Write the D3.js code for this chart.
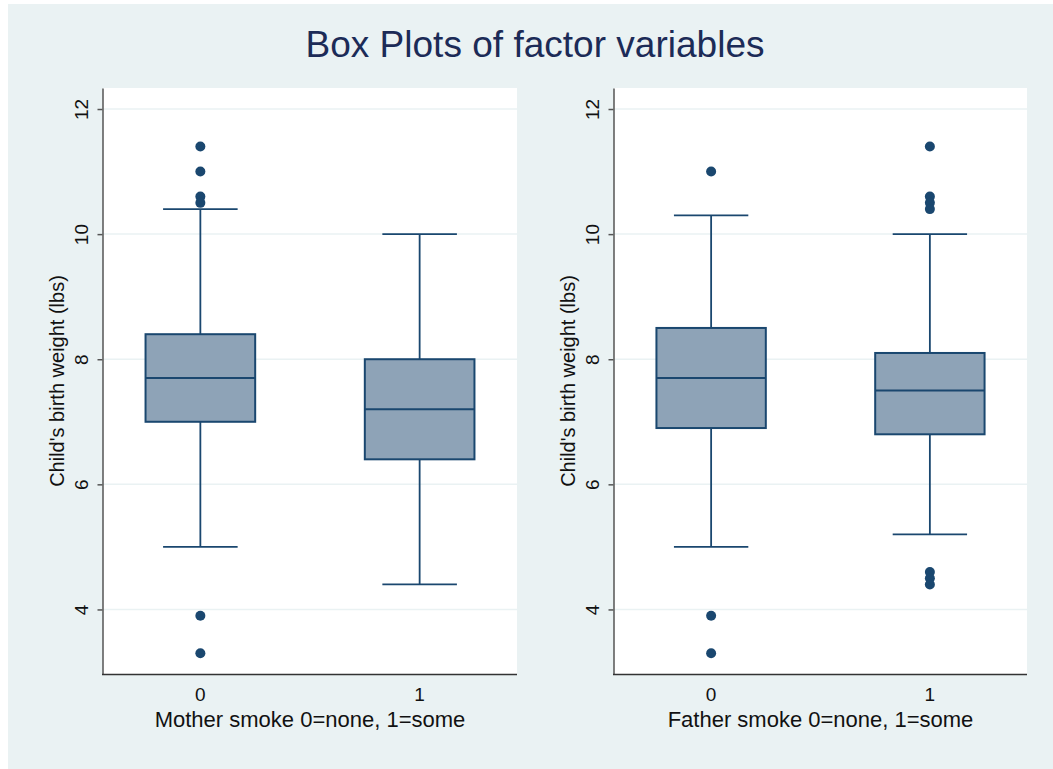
<!DOCTYPE html>
<html>
<head>
<meta charset="utf-8">
<script src="https://cdn.jsdelivr.net/npm/d3@7"></script>
<style>
	body { margin: 0; background: #fff; }
	svg text { font-family: "Liberation Sans", Arial, sans-serif; }
</style>
</head>
<body>
<svg width="1053" height="769"></svg>
<script>
// categories and tick labels
var groups = [0, 1];
var yTicks = [4, 6, 8, 10, 12];
var xTitles = ["Mother smoke 0=none, 1=some", "Father smoke 0=none, 1=some"];
var yTitle = "Child's birth weight (lbs)";

// [lower whisker, q1, median, q3, upper whisker] per group
var motherBox = [[5.0, 7.0, 7.7, 8.4, 10.4], [4.4, 6.4, 7.2, 8.0, 10.0]];
var motherOutliers = [[11.4, 11.0, 10.6, 10.5, 3.9, 3.3], []];
var fatherBox = [[5.0, 6.9, 7.7, 8.5, 10.3], [5.2, 6.8, 7.5, 8.1, 10.0]];
var fatherOutliers = [[11.0, 3.9, 3.3], [11.4, 10.6, 10.5, 10.4, 4.6, 4.5, 4.4]];

var panels = [
	{box: motherBox, out: motherOutliers, title: xTitles[0], left: 103, right: 517},
	{box: fatherBox, out: fatherOutliers, title: xTitles[1], left: 614, right: 1027}
];

var svg = d3.select("svg");
var navy = "#1a476f";

svg.append("rect").attr("x", 8).attr("y", 4).attr("width", 1045).attr("height", 765)
	.attr("fill", "#eaf2f3");

svg.append("text").attr("x", 535).attr("y", 57).attr("text-anchor", "middle")
	.attr("font-size", 36).attr("fill", "#1c2b57")
	.attr("textLength", 459).attr("lengthAdjust", "spacingAndGlyphs")
	.text("Box Plots of factor variables");

var plotTop = 88, plotBottom = 674;
var y = d3.scaleLinear().domain([2.968, 12.336]).range([plotBottom, plotTop]);

panels.forEach(function(p){
	var x = d3.scaleLinear().domain([-0.444, 1.444]).range([p.left, p.right]);
	var g = svg.append("g");
	var unit = x(1) - x(0);

	g.append("rect").attr("x", p.left).attr("y", plotTop)
		.attr("width", p.right - p.left).attr("height", plotBottom - plotTop).attr("fill", "#fff");

	// grid
	g.selectAll("line.grid").data(yTicks).enter().append("line")
		.attr("class", "grid")
		.attr("x1", p.left).attr("x2", p.right)
		.attr("y1", function(d){ return y(d); }).attr("y2", function(d){ return y(d); })
		.attr("stroke", "#eaf2f3").attr("stroke-width", 1.5);

	// y axis
	var yAxis = g.append("g").attr("transform", "translate(" + (p.left - 0.5) + ",0)")
		.call(d3.axisLeft(y).tickValues(yTicks).tickSize(5).tickSizeOuter(0).tickFormat(d3.format("d")));
	yAxis.select(".domain").attr("stroke", "#555").attr("stroke-width", 1.5);
	yAxis.selectAll(".tick line").attr("stroke", "#555").attr("stroke-width", 1.5);
	yAxis.selectAll(".tick text")
		.attr("x", 0).attr("dy", null)
		.attr("transform", "translate(-15,0) rotate(-90)")
		.attr("text-anchor", "middle")
		.attr("font-size", 19).attr("fill", "#111")
		.attr("font-family", "Liberation Sans, Arial, sans-serif");

	// x axis line
	g.append("line").attr("x1", p.left - 1).attr("x2", p.right)
		.attr("y1", plotBottom + 0.5).attr("y2", plotBottom + 0.5)
		.attr("stroke", "#333").attr("stroke-width", 1.5);

	g.selectAll("text.xtick").data(groups).enter().append("text")
		.attr("class", "xtick")
		.attr("x", function(d){ return x(d); }).attr("y", 701)
		.attr("text-anchor", "middle").attr("font-size", 19).attr("fill", "#111")
		.text(function(d){ return d; });

	g.append("text").attr("x", (p.left + p.right) / 2).attr("y", 727)
		.attr("text-anchor", "middle").attr("font-size", 22).attr("fill", "#111")
		.text(p.title);

	g.append("text")
		.attr("transform", "translate(" + (p.left - 39) + "," + ((plotTop + plotBottom) / 2) + ") rotate(-90)")
		.attr("text-anchor", "middle").attr("font-size", 20).attr("fill", "#111")
		.text(yTitle);

	// boxes
	var bw = unit * 0.5, cw = unit * 0.34;
	var bx = g.selectAll("g.box").data(p.box).enter().append("g").attr("class", "box");
	bx.append("line")
		.attr("x1", function(d, i){ return x(groups[i]); }).attr("x2", function(d, i){ return x(groups[i]); })
		.attr("y1", function(d){ return y(d[0]); }).attr("y2", function(d){ return y(d[4]); })
		.attr("stroke", navy).attr("stroke-width", 1.8);
	[0, 4].forEach(function(k){
		bx.append("line")
			.attr("x1", function(d, i){ return x(groups[i]) - cw / 2; })
			.attr("x2", function(d, i){ return x(groups[i]) + cw / 2; })
			.attr("y1", function(d){ return y(d[k]); }).attr("y2", function(d){ return y(d[k]); })
			.attr("stroke", navy).attr("stroke-width", 1.8);
	});
	bx.append("rect")
		.attr("x", function(d, i){ return x(groups[i]) - bw / 2; })
		.attr("width", bw)
		.attr("y", function(d){ return y(d[3]); })
		.attr("height", function(d){ return y(d[1]) - y(d[3]); })
		.attr("fill", "#8ea3b7").attr("stroke", navy).attr("stroke-width", 2);
	bx.append("line")
		.attr("x1", function(d, i){ return x(groups[i]) - bw / 2; })
		.attr("x2", function(d, i){ return x(groups[i]) + bw / 2; })
		.attr("y1", function(d){ return y(d[2]); }).attr("y2", function(d){ return y(d[2]); })
		.attr("stroke", navy).attr("stroke-width", 2);

	// outliers
	p.out.forEach(function(list, i){
		g.selectAll(null).data(list).enter().append("circle")
			.attr("cx", x(groups[i])).attr("cy", function(d){ return y(d); })
			.attr("r", 5).attr("fill", navy);
	});
});
</script>
</body>
</html>
